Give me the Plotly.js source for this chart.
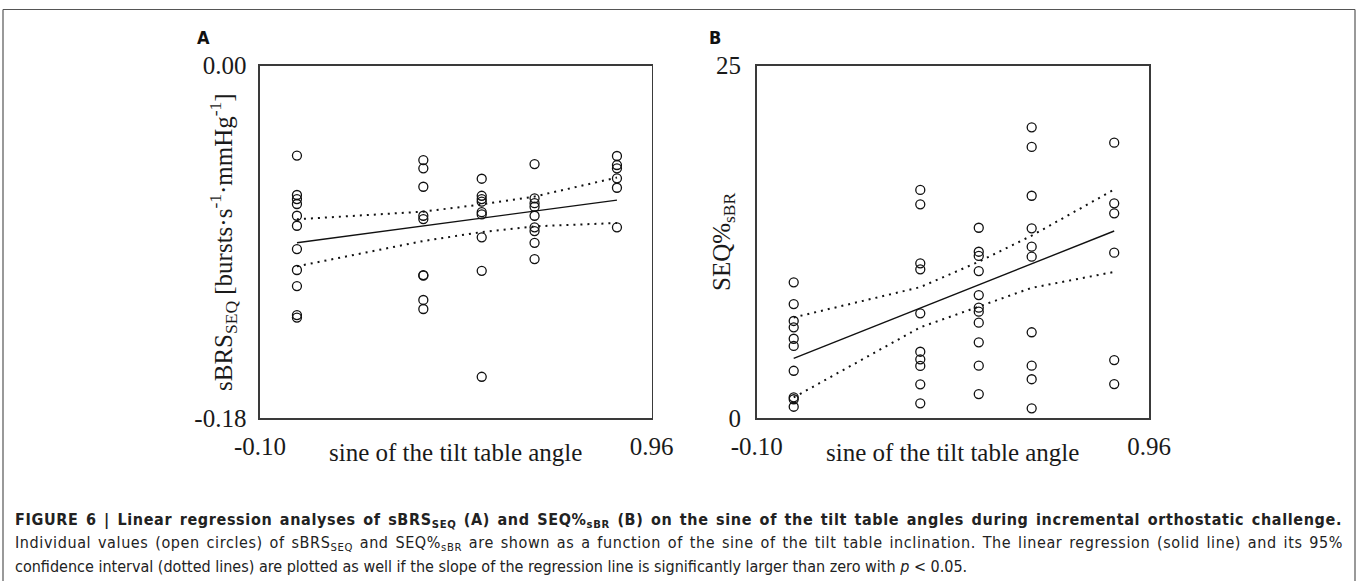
<!DOCTYPE html>
<html>
<head>
<meta charset="utf-8">
<script src="https://cdn.plot.ly/plotly-3.0.1.min.js"></script>
<style>
html,body{margin:0;padding:0;background:#fff;}
#chart{width:1358px;height:581px;}
</style>
</head>
<body>
<div id="chart"></div>
<script>
// sine of tilt table angles (0, 20, 30, 40, 60 degrees)
const sineAngles = [0, 0.342, 0.5, 0.643, 0.866];

// Panel A: sBRS_SEQ individual values per tilt angle
const sbrs0  = [-0.0459,-0.0660,-0.0681,-0.0706,-0.0766,-0.0817,-0.0936,-0.1043,-0.1125,-0.1273,-0.1286];
const sbrs20 = [-0.0482,-0.0524,-0.0618,-0.0766,-0.0783,-0.1069,-0.1072,-0.1196,-0.1242];
const sbrs30 = [-0.0577,-0.0664,-0.0681,-0.0694,-0.0748,-0.0759,-0.0876,-0.1047,-0.1588];
const sbrs40 = [-0.0502,-0.0677,-0.0702,-0.0720,-0.0766,-0.0825,-0.0844,-0.0904,-0.0987];
const sbrs60 = [-0.0461,-0.0507,-0.0524,-0.0575,-0.0623,-0.0825];
const sbrsFit   = [-0.0904, -0.0686];          // at x = 0 and 0.866
const sbrsUpper = [-0.0784,-0.0745,-0.0708,-0.0668,-0.0571];
const sbrsLower = [-0.1024,-0.0895,-0.0849,-0.0820,-0.0803];

// Panel B: SEQ%_sBR individual values per tilt angle
const seq0  = [9.64,8.10,6.90,6.45,5.64,5.13,3.37,1.49,1.35,0.82];
const seq20 = [16.19,15.17,10.99,10.56,7.44,4.72,4.18,3.71,2.41,1.06];
const seq30 = [13.51,11.81,11.51,10.44,8.74,7.84,7.56,6.78,5.39,3.73,1.72];
const seq40 = [20.63,19.24,15.78,13.47,12.17,11.46,6.10,3.73,2.77,0.71];
const seq60 = [19.54,15.24,14.53,11.74,4.13,2.43];
const seqFit   = [4.25, 13.28];
const seqUpper = [7.15, 9.30, 11.10, 12.95, 16.22];
const seqLower = [1.48, 6.45, 7.92, 9.25, 10.38];

const xTickVals = [-0.10, 0.96];
const xTickText = ['-0.10', '0.96'];
const yTickValsA = [-0.18, 0];
const yTickTextA = ['-0.18', '0.00'];
const yTickValsB = [0, 25];
const yTickTextB = ['0', '25'];

const groupsA = [sbrs0, sbrs20, sbrs30, sbrs40, sbrs60];
const groupsB = [seq0, seq20, seq30, seq40, seq60];

function flatten(groups){
  const xs=[], ys=[];
  groups.forEach((g,i)=>g.forEach(v=>{xs.push(sineAngles[i]); ys.push(v);}));
  return {xs, ys};
}
const fa = flatten(groupsA), fb = flatten(groupsB);
const fitX = [sineAngles[0], sineAngles[sineAngles.length-1]];

const marker = {symbol:'circle-open', size:9, color:'#111', line:{width:1.3, color:'#111'}};
const solid = {color:'#111', width:1.4};
const dotted = {color:'#111', width:2, dash:'2px,5px'};

const traces = [
  {x:fa.xs, y:fa.ys, mode:'markers', marker, xaxis:'x', yaxis:'y'},
  {x:fitX, y:sbrsFit, mode:'lines', line:solid, xaxis:'x', yaxis:'y'},
  {x:sineAngles, y:sbrsUpper, mode:'lines', line:dotted, xaxis:'x', yaxis:'y'},
  {x:sineAngles, y:sbrsLower, mode:'lines', line:dotted, xaxis:'x', yaxis:'y'},
  {x:fb.xs, y:fb.ys, mode:'markers', marker, xaxis:'x2', yaxis:'y2'},
  {x:fitX, y:seqFit, mode:'lines', line:solid, xaxis:'x2', yaxis:'y2'},
  {x:sineAngles, y:seqUpper, mode:'lines', line:dotted, xaxis:'x2', yaxis:'y2'},
  {x:sineAngles, y:seqLower, mode:'lines', line:dotted, xaxis:'x2', yaxis:'y2'}
];

const W=1358, H=581;
const px = v => v/W, py = v => 1 - v/H;
const serif = {family:'Liberation Serif, Times New Roman, serif', size:25, color:'#1a1a1a'};
const axisCommon = {showgrid:false, zeroline:false, showline:true, mirror:true,
  linecolor:'#3a3a3a', linewidth:1.6, ticks:'', tickfont:serif, fixedrange:true};

const capFont = {family:'DejaVu Sans Condensed, Liberation Sans Narrow, Arial Narrow, sans-serif', size:16, color:'#222'};

const layout = {
  width:W, height:H, margin:{l:0,r:0,t:0,b:0},
  paper_bgcolor:'#fff', plot_bgcolor:'#fff', showlegend:false,
  xaxis: Object.assign({}, axisCommon, {domain:[px(260), px(651.7)], range:[-0.10,0.96],
    tickvals:xTickVals, ticktext:xTickText, ticklabelstandoff:5, anchor:'y'}),
  yaxis: Object.assign({}, axisCommon, {domain:[py(418.3), py(65.7)], range:[-0.18,0],
    tickvals:yTickValsA, ticktext:yTickTextA, ticklabelstandoff:7, anchor:'x'}),
  xaxis2: Object.assign({}, axisCommon, {domain:[px(756.7), px(1149)], range:[-0.10,0.96],
    tickvals:xTickVals, ticktext:xTickText, ticklabelstandoff:5, anchor:'y2'}),
  yaxis2: Object.assign({}, axisCommon, {domain:[py(418.3), py(65.7)], range:[0,25],
    tickvals:yTickValsB, ticktext:yTickTextB, ticklabelstandoff:9, anchor:'x2'}),
  shapes:[
    {type:'line', xref:'paper', yref:'paper', x0:px(3), x1:px(3), y0:py(9.5), y1:py(585), line:{color:'#555', width:1.2}},
    {type:'line', xref:'paper', yref:'paper', x0:px(3), x1:px(1355), y0:py(9.5), y1:py(9.5), line:{color:'#555', width:1.2}},
    {type:'line', xref:'paper', yref:'paper', x0:px(1355), x1:px(1355), y0:py(9.5), y1:py(585), line:{color:'#555', width:1.2}}
  ],
  annotations:[
    {text:'<b>A</b>', xref:'paper', yref:'paper', x:px(203), y:py(37), showarrow:false, xanchor:'center', yanchor:'middle',
      font:{family:'DejaVu Sans Condensed, Liberation Sans, Arial, sans-serif', size:18, color:'#111'}},
    {text:'<b>B</b>', xref:'paper', yref:'paper', x:px(715), y:py(37), showarrow:false, xanchor:'center', yanchor:'middle',
      font:{family:'DejaVu Sans Condensed, Liberation Sans, Arial, sans-serif', size:18, color:'#111'}},
    {text:'sBRS<sub>SEQ</sub> [bursts·s<sup>-1</sup>·mmHg<sup>-1</sup>]', xref:'paper', yref:'paper', x:px(223), y:py(242),
      textangle:-90, showarrow:false, xanchor:'center', yanchor:'middle', font:serif},
    {text:'SEQ%<sub>sBR</sub>', xref:'paper', yref:'paper', x:px(723), y:py(242),
      textangle:-90, showarrow:false, xanchor:'center', yanchor:'middle', font:serif},
    {text:'sine of the tilt table angle', xref:'paper', yref:'paper', x:px(456), y:py(452),
      showarrow:false, xanchor:'center', yanchor:'middle', font:serif},
    {text:'sine of the tilt table angle', xref:'paper', yref:'paper', x:px(953), y:py(452),
      showarrow:false, xanchor:'center', yanchor:'middle', font:serif},
    {text:'<b>FIGURE 6 | Linear regression analyses of sBRS<sub>SEQ</sub> (A) and SEQ%<sub>sBR</sub> (B) on the sine of the tilt table angles during incremental orthostatic challenge.</b>',
      xref:'paper', yref:'paper', x:px(13), y:py(520), showarrow:false, xanchor:'left', yanchor:'middle', align:'left', font:capFont},
    {text:'Individual values (open circles) of sBRS<sub>SEQ</sub> and SEQ%<sub>sBR</sub> are shown as a function of the sine of the tilt table inclination. The linear regression (solid line) and its 95%',
      xref:'paper', yref:'paper', x:px(13), y:py(543), showarrow:false, xanchor:'left', yanchor:'middle', align:'left', font:capFont},
    {text:'confidence interval (dotted lines) are plotted as well if the slope of the regression line is significantly larger than zero with <i>p</i> &lt; 0.05.',
      xref:'paper', yref:'paper', x:px(13), y:py(566), showarrow:false, xanchor:'left', yanchor:'middle', align:'left', font:capFont}
  ]
};

Plotly.newPlot('chart', traces, layout, {staticPlot:true, displayModeBar:false}).then(gd => {
  // justify the first two caption lines, as in the typeset figure caption
  const texts = gd.querySelectorAll('.annotation-text');
  const targets = {6: 1329, 7: 1330};
  Object.keys(targets).forEach(k => {
    const el = texts[k];
    if (!el) return;
    const len = el.getComputedTextLength();
    const n = el.textContent.length - 1;
    const spaces = (el.textContent.match(/ /g) || []).length;
    if (n > 0 && len < targets[k]) {
      const extra = targets[k] - len;
      // spread most of the extra width over letters, a little over word gaps
      el.style.letterSpacing = (extra * 0.7 / n).toFixed(3) + 'px';
      el.style.wordSpacing = (extra * 0.3 / Math.max(spaces,1)).toFixed(3) + 'px';
    }
  });
});
</script>
</body>
</html>
